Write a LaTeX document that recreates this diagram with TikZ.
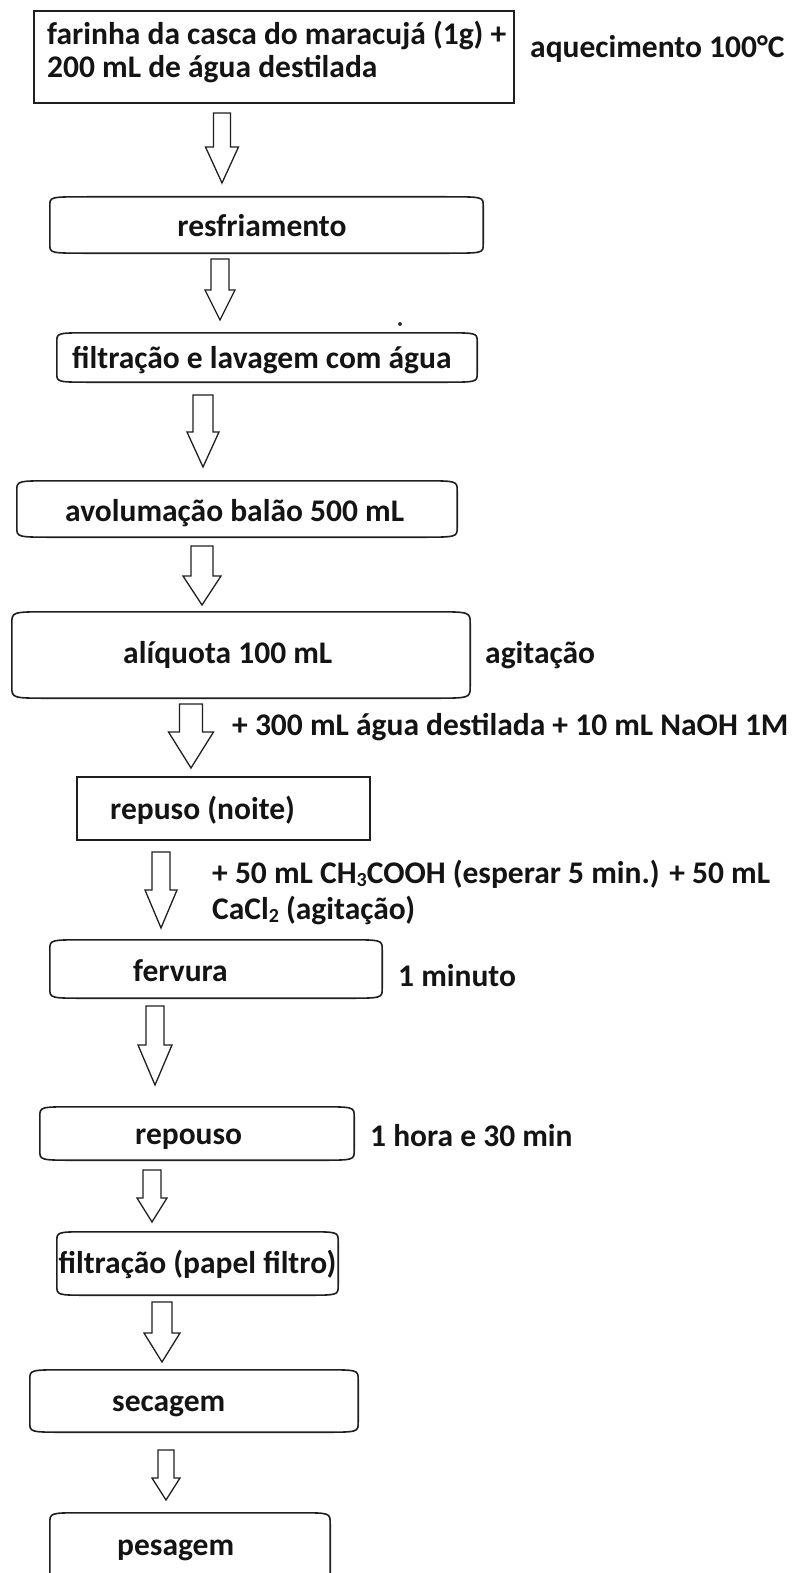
\documentclass[tikz,border=0pt]{standalone}
\usepackage{fontspec}
\setmainfont{Carlito}
\usetikzlibrary{calc}
\newcommand\lsub[1]{{\fontsize{20}{20}\selectfont\raisebox{-3.5pt}{#1}}}
\newcommand\curvybox[3]{%
 \draw[boxline] ([xshift=#2pt]#1.north west) -- ([xshift=-#2pt]#1.north east)
   .. controls (#1.north east) .. ([yshift=-#3pt]#1.north east)
   -- ([yshift=#3pt]#1.south east)
   .. controls (#1.south east) .. ([xshift=-#2pt]#1.south east)
   -- ([xshift=#2pt]#1.south west)
   .. controls (#1.south west) .. ([yshift=#3pt]#1.south west)
   -- ([yshift=-#3pt]#1.north west)
   .. controls (#1.north west) .. cycle;}
% name, cx, top, base, tip, shaft half width, head half width
\newcommand\blockarrow[7]{%
 \coordinate (#1s) at (#2,#3);
 \coordinate (#1e) at (#2,#5);
 \draw[arrline] ({#2-#6},#3) -- ({#2+#6},#3) -- ({#2+#6},#4) -- ({#2+#7},#4)
   -- (#1e) -- ({#2-#7},#4) -- ({#2-#6},#4) -- cycle;}
\begin{document}
\begin{tikzpicture}[x=1pt,y=-1pt,
  boxline/.style={draw=black!88,line width=1.6pt},
  arrline/.style={draw=black!88,line width=1.3pt,line join=miter},
  slot/.style={draw=none,inner sep=0pt},
  rectbox/.style={draw=black!88,line width=1.6pt,inner sep=0pt},
  txt/.style={inner sep=0pt,text=black!92,font=\fontsize{31.5}{37}\selectfont\bfseries}]
\useasboundingbox (0,0) rectangle (792,1573);
\fill[white] (0,0) rectangle (792,1573);
\clip (0,0) rectangle (792,1573);

% boxes
\node[rectbox,minimum width=480pt,minimum height=92pt] (b1) at (274,57) {};
\node[slot,minimum width=433pt,minimum height=56pt] (b2) at (266.5,225) {};
\node[slot,minimum width=420pt,minimum height=49pt] (b3) at (267,357.5) {};
\node[slot,minimum width=440pt,minimum height=56pt] (b4) at (237,509) {};
\node[slot,minimum width=458pt,minimum height=86pt] (b5) at (241,655) {};
\node[rectbox,minimum width=293pt,minimum height=63pt] (b6) at (223.5,808.5) {};
\node[slot,minimum width=332pt,minimum height=58pt] (b7) at (216,969) {};
\node[slot,minimum width=314pt,minimum height=53pt] (b8) at (197,1133.5) {};
\node[slot,minimum width=281pt,minimum height=63pt] (b9) at (197.5,1263.5) {};
\node[slot,minimum width=328pt,minimum height=62pt] (b10) at (194,1401) {};
\node[slot,minimum width=280pt,minimum height=87pt] (b11) at (190,1556.5) {};
\curvybox{b2}{38}{9}
\curvybox{b3}{36}{9}
\curvybox{b4}{38}{10}
\curvybox{b5}{38}{12}
\curvybox{b7}{36}{10}
\curvybox{b8}{36}{10}
\curvybox{b9}{32}{10}
\curvybox{b10}{36}{10}
\curvybox{b11}{32}{11}

% texts (anchored at baseline)
\node[txt,anchor=base west] (t1a) at (47,45) {farinha da casca do maracujá (1g) +};
\node[txt,anchor=base west] (t1b) at (47,78) {200 mL de água destilada};
\node[txt,anchor=base west] (s1) at (530,58) {aquecimento 100°C};
\node[txt,anchor=base] (t2) at (262,236) {resfriamento};
\node[txt,anchor=base west] (t3) at (72,368) {filtração e lavagem com água};
\node[txt,anchor=base west] (t4) at (65,521) {avolumação balão 500 mL};
\node[txt,anchor=base west] (t5) at (123,663) {alíquota 100 mL};
\node[txt,anchor=base west] (s5) at (485,663) {agitação};
\node[txt,anchor=base west] (l5) at (232,735) {+ 300 mL água destilada + 10 mL NaOH 1M};
\node[txt,anchor=base west] (t6) at (110,819) {repuso (noite)};
\node[txt,anchor=base west] (l6a) at (212,883) {+ 50 mL CH\lsub{3}COOH (esperar 5 min.) + 50 mL};
\node[txt,anchor=base west] (l6b) at (212,919) {CaCl\lsub{2} (agitação)};
\node[txt,anchor=base west] (t7) at (133,981) {fervura};
\node[txt,anchor=base west] (s7) at (398,986) {1 minuto};
\node[txt,anchor=base west] (t8) at (135,1144) {repouso};
\node[txt,anchor=base west] (s8) at (370,1146) {1 hora e 30 min};
\node[txt,anchor=base] (t9) at (197.5,1273) {filtração (papel filtro)};
\node[txt,anchor=base west] (t10) at (112,1411) {secagem};
\node[txt,anchor=base west] (t11) at (117,1555) {pesagem};

% stray dot
\fill[black!80] (400,324) circle (2pt);

% block arrows
\blockarrow{a1}{222}{113}{147}{183}{8.5}{16.5}
\blockarrow{a2}{220}{259}{290}{320}{9}{15}
\blockarrow{a3}{203}{395}{432}{467}{10}{16}
\blockarrow{a4}{202}{546}{576}{605}{11}{19}
\blockarrow{a5}{191}{704}{732}{768}{11.5}{22.5}
\blockarrow{a6}{161}{852}{890}{928}{9}{16}
\blockarrow{a7}{155}{1006}{1045}{1085}{9}{17}
\blockarrow{a8}{152}{1170}{1198}{1222}{9}{15}
\blockarrow{a9}{162}{1302}{1333}{1362}{10}{18}
\blockarrow{a10}{166}{1450}{1478}{1500}{8}{14}
\end{tikzpicture}
\end{document}
